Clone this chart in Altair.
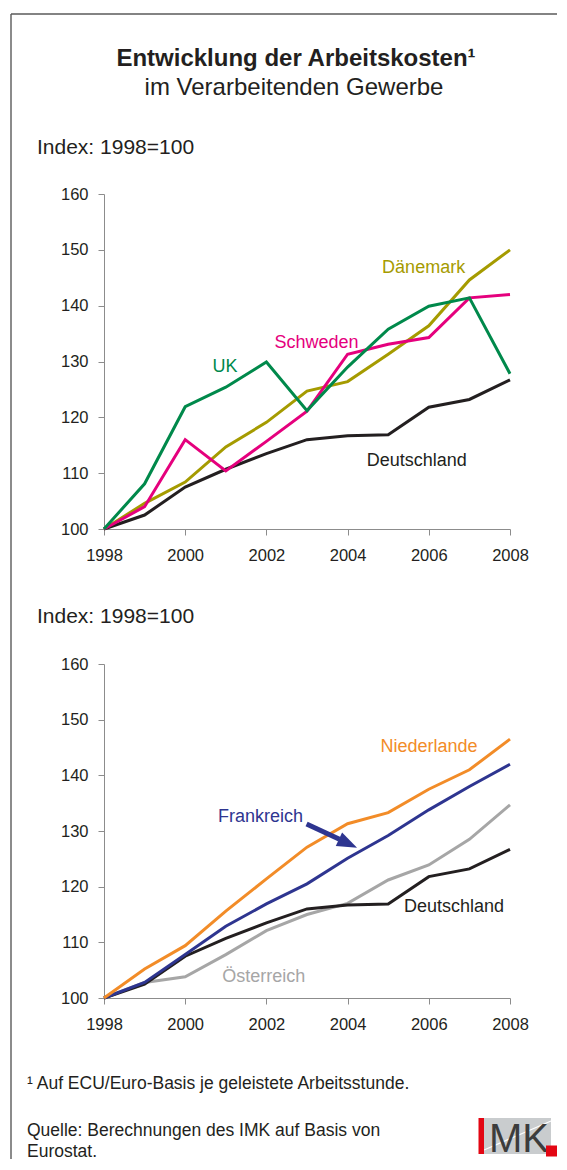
import altair as alt
import pandas as pd

# ---------------- data ----------------
years = list(range(1998, 2009))
x_ticks = [1998, 2000, 2002, 2004, 2006, 2008]
y_ticks = [100, 110, 120, 130, 140, 150, 160]

deutschland = [100, 102.5, 107.5, 110.7, 113.5, 116.0, 116.7, 116.9, 121.8, 123.2, 126.7]
uk = [100, 108.1, 121.9, 125.4, 129.9, 121.2, 129.0, 135.8, 139.9, 141.4, 127.8]
schweden = [100, 104.0, 116.0, 110.4, 115.7, 121.1, 131.3, 133.1, 134.3, 141.4, 142.0]
daenemark = [100, 104.6, 108.4, 114.7, 119.1, 124.7, 126.4, 131.3, 136.4, 144.6, 150.0]

niederlande = [100, 105.2, 109.4, 115.6, 121.4, 127.1, 131.3, 133.3, 137.5, 141.0, 146.5]
frankreich = [100, 102.8, 107.8, 112.9, 116.9, 120.5, 125.1, 129.2, 133.8, 138.0, 142.0]
oesterreich = [100, 102.8, 103.8, 107.8, 112.1, 115.0, 117.0, 121.2, 123.9, 128.5, 134.7]

top_names = ["Dänemark", "Deutschland", "Schweden", "UK"]
top_values = [daenemark, deutschland, schweden, uk]
top_colors = ["#a59b00", "#231f20", "#e5007d", "#00894b"]
top_label_x = [2004.85, 2004.47, 2002.2, 2000.67]
top_label_y = [146.75, 112.24, 133.3, 128.96]

bot_names = ["Österreich", "Deutschland", "Frankreich", "Niederlande"]
bot_values = [oesterreich, deutschland, frankreich, niederlande]
bot_colors = ["#a6a6a6", "#231f20", "#2e3590", "#f28c28"]
bot_label_x = [2000.91, 2005.39, 2000.81, 2004.81]
bot_label_y = [103.8, 116.27, 132.6, 145.04]

arrow_x = [2002.99, 2003.8]
arrow_y = [131.26, 128.5]
arrow_head = [2004.01, 127.75]

FONT = "Liberation Sans, Arial, Helvetica, sans-serif"
TXT = "#231f20"
AXC = "#8c8c8c"
one = pd.DataFrame({"k": [0]})


def x_enc(field="Jahr"):
    return alt.X(f"{field}:Q",
                 scale=alt.Scale(domain=[1998, 2008], nice=False, zero=False),
                 axis=alt.Axis(values=x_ticks, format="d", title=None, grid=False,
                               tickSize=6, labelPadding=12, labelFontSize=16.5,
                               labelFlush=False, labelOverlap=False, labelFont=FONT,
                               labelColor=TXT, domainColor=AXC, tickColor=AXC))


def y_enc(field="Index"):
    return alt.Y(f"{field}:Q",
                 scale=alt.Scale(domain=[100, 160], nice=False, zero=False),
                 axis=alt.Axis(values=y_ticks, format="d", title=None, grid=False,
                               tickSize=6, labelPadding=10, labelFontSize=16.5,
                               labelFlush=False, labelOverlap=False, labelFont=FONT,
                               labelColor=TXT, domainColor=AXC, tickColor=AXC))


def ptext(txt, x, y, size, weight="normal", align="left", color=TXT, font=FONT):
    return alt.Chart(one).mark_text(
        text=txt, fontSize=size, fontWeight=weight, align=align,
        baseline="alphabetic", font=font, color=color
    ).encode(x=alt.value(x), y=alt.value(y))


def prect(x1, x2, y1, y2, color):
    return alt.Chart(one).mark_rect(color=color).encode(
        x=alt.value(x1), x2=alt.value(x2), y=alt.value(y1), y2=alt.value(y2))


def prule(x1, x2, y1, y2, color, w):
    return alt.Chart(one).mark_rule(color=color, strokeWidth=w).encode(
        x=alt.value(x1), x2=alt.value(x2), y=alt.value(y1), y2=alt.value(y2))


def series(names, values, colors):
    layers = []
    for n, v, c in zip(names, values, colors):
        df = pd.DataFrame({"Jahr": years, "Index": v, "Land": n})
        layers.append(alt.Chart(df).mark_line(color=c, strokeWidth=3).encode(
            x=x_enc(), y=y_enc()))
    return layers


def labels(names, lx, ly, colors):
    df = pd.DataFrame({"Land": names, "lx": lx, "ly": ly, "col": colors})
    return alt.Chart(df).mark_text(align="left", baseline="middle", fontSize=18,
                                   font=FONT).encode(
        x=alt.X("lx:Q"), y=alt.Y("ly:Q"), text="Land:N",
        color=alt.Color("col:N", scale=None))


# ---------------- top panel ----------------
top_layers = [
    prule(-93, 453, -180, -180, "#5a5a5a", 1.4),
    prule(-93, -93, -180, 965, "#5a5a5a", 1.4),
    ptext("Entwicklung der Arbeitskosten¹", 192, -128, 24, weight="bold", align="center"),
    ptext("im Verarbeitenden Gewerbe", 190, -99, 24, align="center"),
    ptext("Index: 1998=100", -67, -40, 21),
]
top_layers += series(top_names, top_values, top_colors)
top_layers.append(labels(top_names, top_label_x, top_label_y, top_colors))
top = alt.layer(*top_layers).properties(width=406, height=335)

# ---------------- bottom panel ----------------
arrow_df = pd.DataFrame({"ax": [arrow_x[0]], "ax2": [arrow_x[1]],
                         "ay": [arrow_y[0]], "ay2": [arrow_y[1]],
                         "hx": [arrow_head[0]], "hy": [arrow_head[1]]})
arrow_shaft = alt.Chart(arrow_df).mark_rule(color="#2e3590", strokeWidth=5).encode(
    x="ax:Q", x2="ax2:Q", y="ay:Q", y2="ay2:Q")
arrow_tip = alt.Chart(arrow_df).mark_point(
    shape="M1,0L-1,-0.75L-1,0.75Z", filled=True, size=400, angle=25,
    color="#2e3590", opacity=1).encode(x="hx:Q", y="hy:Q")

bot_layers = [ptext("Index: 1998=100", -67, -41, 21)]
bot_layers += series(bot_names, bot_values, bot_colors)
bot_layers += [labels(bot_names, bot_label_x, bot_label_y, bot_colors), arrow_shaft, arrow_tip]
bot_layers += [
    ptext("¹ Auf ECU/Euro-Basis je geleistete Arbeitsstunde.", -77, 425, 17.5),
    ptext("Quelle: Berechnungen des IMK auf Basis von", -77, 472, 17.5),
    ptext("Eurostat.", -77, 493, 17.5),
    # IMK logo
    prect(380, 447, 454, 490, "#c9ccce"),
    prule(380, 447, 486, 457, "#ffffff", 1.2),
    prect(374.5, 380, 454, 490, "#e30613"),
    ptext("MK", 385, 487.5, 40, color="#3c3c3c",
          font="Liberation Sans Narrow, Arial Narrow, Liberation Sans, Arial, sans-serif"),
    prect(442, 453, 481.5, 492.5, "#e30613"),
]
bottom = alt.layer(*bot_layers).properties(width=406, height=334)

chart = alt.vconcat(top, bottom, spacing=135, bounds="flush").properties(
    padding={"left": 2, "top": 5, "right": 0, "bottom": 0}
).configure_view(stroke=None)

chart.save("out.html", embed_options={"renderer": "svg", "actions": False})
